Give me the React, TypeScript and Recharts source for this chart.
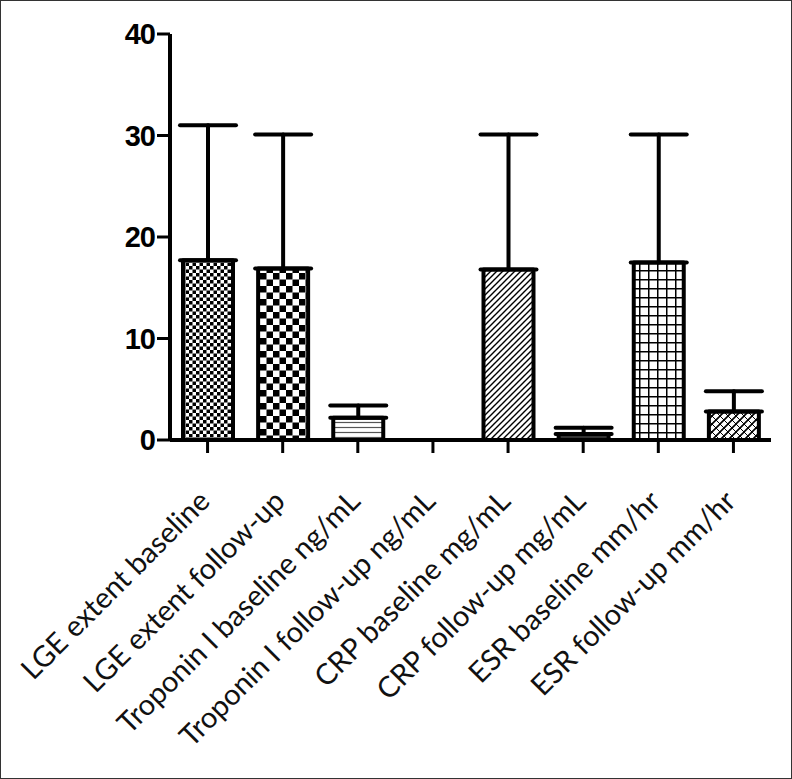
import React from "react";
import { BarChart, Bar, XAxis, YAxis, ErrorBar, Cell } from "recharts";

const categories = [
  "LGE extent baseline",
  "LGE extent follow-up",
  "Troponin I baseline ng/mL",
  "Troponin I follow-up ng/mL",
  "CRP baseline mg/mL",
  "CRP follow-up mg/mL",
  "ESR baseline mm/hr",
  "ESR follow-up mm/hr",
];
const means = [17.7, 16.9, 2.2, 0, 16.8, 0.6, 17.5, 2.8];
const upperErrors = [13.3, 13.2, 1.2, 0.1, 13.3, 0.6, 12.6, 2.0];
const yTicks = [0, 10, 20, 30, 40];
const patternIds = ["fineCheck", "coarseCheck", "hLines", "plain", "diag", "dark", "grid", "cross"];

const data = categories.map((name, i) => ({
  name,
  mean: means[i],
  err: [0, upperErrors[i]],
}));

const XTick = (props: any) => {
  const { x, y, payload } = props;
  const ax = x + 4;
  const ay = y + 50;
  return (
    <text
      x={ax}
      y={ay}
      transform={`rotate(-45, ${ax}, ${ay})`}
      textAnchor="end"
      fontFamily="Lato"
      fontSize={29}
      fill="#111"
    >
      {payload.value}
    </text>
  );
};

export default function App() {
  return (
    <div style={{ position: "absolute", left: 0, top: 0, width: 792, height: 779, background: "#fff" }}>
      <BarChart
        width={792}
        height={779}
        data={data}
        margin={{ top: 34, right: 21, bottom: 0, left: 0 }}
      >
        <defs>
          <pattern id="fineCheck" width="7" height="7" patternUnits="userSpaceOnUse">
            <rect width="7" height="7" fill="#fff" />
            <rect x="0" y="0" width="3.5" height="3.5" fill="#000" />
            <rect x="3.5" y="3.5" width="3.5" height="3.5" fill="#000" />
          </pattern>
          <pattern id="coarseCheck" width="13" height="13" patternUnits="userSpaceOnUse">
            <rect width="13" height="13" fill="#fff" />
            <rect x="0" y="0" width="6.5" height="6.5" fill="#000" />
            <rect x="6.5" y="6.5" width="6.5" height="6.5" fill="#000" />
          </pattern>
          <pattern id="hLines" width="5" height="5" patternUnits="userSpaceOnUse">
            <rect width="5" height="5" fill="#fff" />
            <line x1="0" y1="2.5" x2="5" y2="2.5" stroke="#555" strokeWidth="1.2" />
          </pattern>
          <pattern id="plain" width="5" height="5" patternUnits="userSpaceOnUse">
            <rect width="5" height="5" fill="#fff" />
          </pattern>
          <pattern id="diag" width="6" height="6" patternUnits="userSpaceOnUse">
            <rect width="6" height="6" fill="#fff" />
            <path d="M0,6 L6,0 M-1.5,1.5 L1.5,-1.5 M4.5,7.5 L7.5,4.5" stroke="#000" strokeWidth="1.4" />
          </pattern>
          <pattern id="dark" width="5" height="5" patternUnits="userSpaceOnUse">
            <rect width="5" height="5" fill="#333" />
          </pattern>
          <pattern id="grid" width="9" height="9" patternUnits="userSpaceOnUse">
            <rect width="9" height="9" fill="#fff" />
            <line x1="0" y1="0" x2="9" y2="0" stroke="#000" strokeWidth="3" />
            <line x1="0" y1="0" x2="0" y2="9" stroke="#000" strokeWidth="3" />
          </pattern>
          <pattern id="cross" width="8" height="8" patternUnits="userSpaceOnUse">
            <rect width="8" height="8" fill="#fff" />
            <path d="M0,8 L8,0 M-2,2 L2,-2 M6,10 L10,6" stroke="#000" strokeWidth="1.6" />
            <path d="M0,0 L8,8 M-2,6 L2,10 M6,-2 L10,2" stroke="#000" strokeWidth="1" />
          </pattern>
        </defs>
        <XAxis
          dataKey="name"
          height={339}
          interval={0}
          tick={<XTick />}
          tickSize={13}
          tickMargin={0}
          axisLine={{ stroke: "#000", strokeWidth: 4 }}
          tickLine={{ stroke: "#000", strokeWidth: 3 }}
        />
        <YAxis
          width={170}
          domain={[0, 40]}
          ticks={yTicks}
          interval={0}
          tickSize={13}
          tickMargin={2}
          axisLine={{ stroke: "#000", strokeWidth: 4 }}
          tickLine={{ stroke: "#000", strokeWidth: 3 }}
          tick={{ fill: "#000", fontSize: 29, fontWeight: "bold", fontFamily: "Liberation Sans", letterSpacing: -1 }}
        />
        <Bar
          dataKey="mean"
          barSize={50}
          stroke="#000"
          strokeWidth={4}
          strokeLinejoin="round"
          isAnimationActive={false}
        >
          {data.map((d, i) => (
            <Cell key={d.name} fill={`url(#${patternIds[i]})`} />
          ))}
          <ErrorBar
            dataKey="err"
            width={28}
            strokeWidth={4}
            stroke="#000"
            strokeLinecap="round"
            direction="y"
          />
        </Bar>
      </BarChart>
      <div
        style={{
          position: "absolute",
          left: 0,
          top: 0,
          width: 792,
          height: 779,
          border: "1px solid #333",
          boxSizing: "border-box",
          pointerEvents: "none",
        }}
      />
    </div>
  );
}
